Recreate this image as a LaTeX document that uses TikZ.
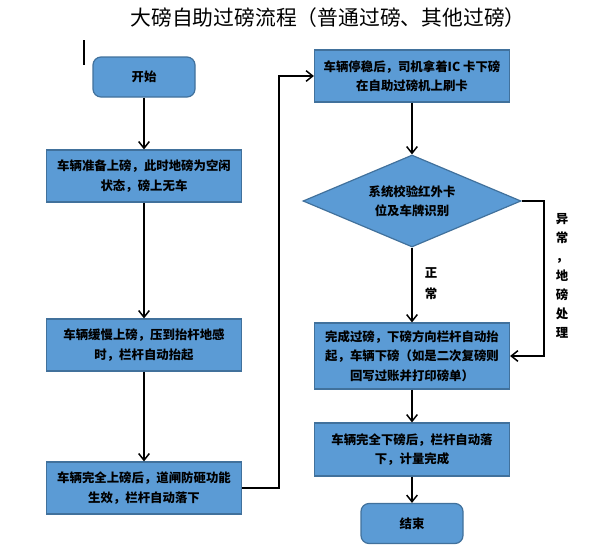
\documentclass[tikz,border=0pt]{standalone}
\usepackage{fontspec}
\newfontfamily\cjk{Noto Sans CJK SC}
\usetikzlibrary{arrows.meta,shapes.geometric}
\definecolor{boxfill}{HTML}{5B9BD5}
\definecolor{boxline}{HTML}{41719C}
\tikzset{
  boxbase/.style={draw=boxline, line width=0.9pt, fill=boxfill, align=center, inner sep=0pt,
    font=\cjk\bfseries\fontsize{9.3}{14.6}\selectfont},
  procbox/.style={boxbase, rectangle, minimum width=195*0.75pt, minimum height=52*0.75pt},
  termbox/.style={boxbase, rectangle, rounded corners=6pt, minimum width=102*0.75pt, minimum height=40*0.75pt},
  decbox/.style={boxbase, diamond, aspect=2.37, minimum width=218*0.75pt, minimum height=92*0.75pt},
  lbl/.style={font=\cjk\bfseries\fontsize{9.3}{15.7}\selectfont, align=center, inner sep=0pt},
  arr/.style={draw=black, line width=1.1pt, -{Straight Barb[length=5pt,width=8pt,line width=1.1pt]}},
  conn/.style={draw=black, line width=1.1pt}
}
\begin{document}
\begin{tikzpicture}[x=0.75pt,y=-0.75pt]
\path[use as bounding box] (0,0) rectangle (589,553);
\node[font=\cjk\fontsize{15.6}{18}\selectfont, inner sep=0pt] (title) at (328,18) {大磅自助过磅流程（普通过磅、其他过磅）};
\draw[line width=0.9pt] (84,40) coordinate (cur1) -- (84,65) coordinate (cur2);
\node[termbox] (start) at (144,77) {开始};
\node[procbox] (b2) at (144,176) {车辆准备上磅，此时地磅为空闲\\状态，磅上无车};
\node[procbox] (b3) at (144,345) {车辆缓慢上磅，压到抬杆地感\\时，栏杆自动抬起};
\node[procbox] (b4) at (144,488) {车辆完全上磅后，道闸防砸功能\\生效，栏杆自动落下};
\node[procbox] (b5) at (412,76) {车辆停稳后，司机拿着IC 卡下磅\\在自助过磅机上刷卡};
\node[decbox] (d) at (412,201) {系统校验红外卡\\位及车牌识别};
\node[procbox, minimum height=66*0.75pt] (b6) at (412,356) {完成过磅，下磅方向栏杆自动抬\\起，车辆下磅（如是二次复磅则\\回写过账并打印磅单）};
\node[procbox, minimum height=53*0.75pt] (b7) at (412,449.5) {车辆完全下磅后，栏杆自动落\\下，计量完成};
\node[termbox] (end) at (412,523.5) {结束};
\coordinate (cx1) at (279,0);
\coordinate (cx2) at (544,0);
\draw[arr] (start) -- (b2);
\draw[arr] (b2) -- (b3);
\draw[arr] (b3) -- (b4);
\draw[arr] (b4.east) -- (b4.east -| cx1) |- (b5.west);
\draw[arr] (b5) -- (d);
\draw[arr] (d) -- (b6);
\draw[arr] (d.east) -- (d.east -| cx2) |- (b6.east);
\draw[arr] (b6) -- (b7);
\draw[arr] (b7) -- (end);
\node[lbl] (ok) at (431,284) {正\\常};
\node[lbl, font=\cjk\bfseries\fontsize{9.3}{14.2}\selectfont] (err) at (562,276) {异\\常\\，\\地\\磅\\处\\理};
\end{tikzpicture}
\end{document}
